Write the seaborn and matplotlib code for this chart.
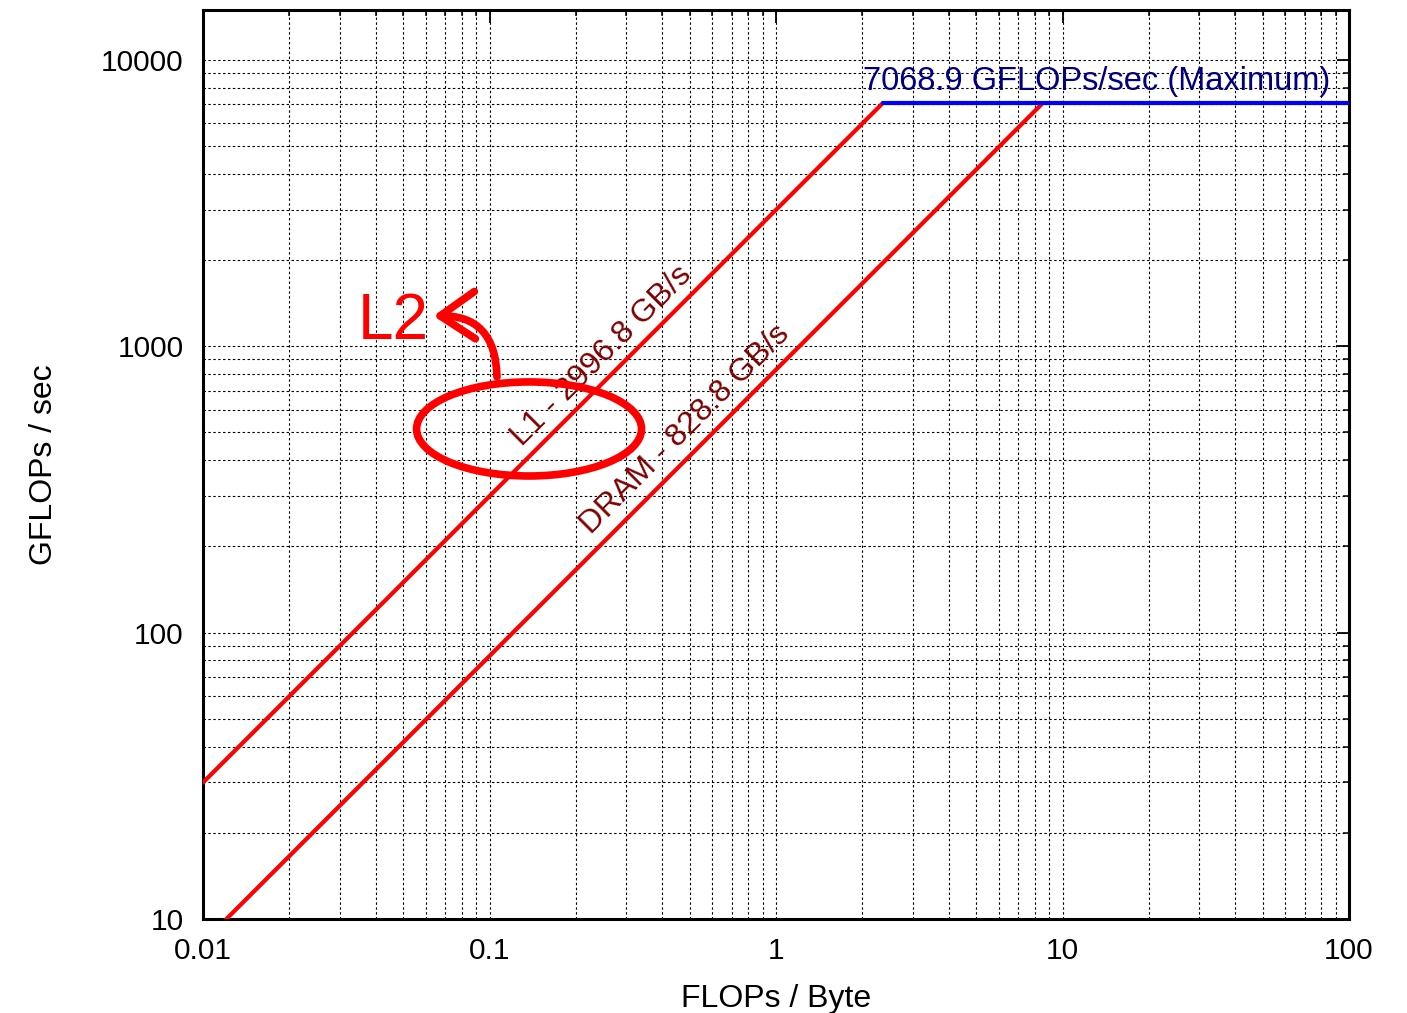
import numpy as np
import pandas as pd
import matplotlib
matplotlib.use("Agg")
import matplotlib.pyplot as plt
import seaborn as sns
from matplotlib.patches import Ellipse, FancyArrowPatch
from matplotlib.ticker import FixedLocator, LogLocator, NullFormatter

# Roofline data: memory bandwidth ceilings and compute peak
memory_levels = ["L1", "DRAM"]
bandwidths_gbs = [2996.8, 828.8]
peak_gflops = 7068.9

x_limits = [0.01, 100]
y_limits = [10, 15000]
x_tick_values = [0.01, 0.1, 1, 10, 100]
x_tick_labels = ["0.01", "0.1", "1", "10", "100"]
y_tick_values = [10, 100, 1000, 10000]
y_tick_labels = ["10", "100", "1000", "10000"]

sns.set_theme(style="white")
plt.rcParams["font.family"] = ["Liberation Sans", "DejaVu Sans"]

# Build the roof segments from the bandwidths and the peak
rows = []
for name, bw in zip(memory_levels, bandwidths_gbs):
    ridge = peak_gflops / bw
    rows.append({"roof": name, "ai": x_limits[0], "gflops": bw * x_limits[0]})
    rows.append({"roof": name, "ai": ridge, "gflops": peak_gflops})
ridge_first = peak_gflops / max(bandwidths_gbs)
rows.append({"roof": "peak", "ai": ridge_first, "gflops": peak_gflops})
rows.append({"roof": "peak", "ai": x_limits[1], "gflops": peak_gflops})
roofs = pd.DataFrame(rows)

fig = plt.figure(figsize=(14.07, 10.13), dpi=100)
ax = fig.add_axes([0.1443, 0.0928, 0.8145, 0.8978])

palette = {"L1": "#ff0000", "DRAM": "#ff0000", "peak": "#0000ff"}
sns.lineplot(data=roofs, x="ai", y="gflops", hue="roof", units="roof",
             estimator=None, sort=False, palette=palette, linewidth=3.0,
             legend=False, ax=ax, zorder=3)

ax.set_xscale("log")
ax.set_yscale("log")
ax.set_xlim(*x_limits)
ax.set_ylim(*y_limits)

ax.xaxis.set_major_locator(FixedLocator(x_tick_values))
ax.set_xticklabels(x_tick_labels)
ax.yaxis.set_major_locator(FixedLocator(y_tick_values))
ax.set_yticklabels(y_tick_labels)
ax.xaxis.set_minor_locator(LogLocator(base=10, subs=np.arange(2, 10)))
ax.yaxis.set_minor_locator(LogLocator(base=10, subs=np.arange(2, 10)))
ax.xaxis.set_minor_formatter(NullFormatter())
ax.yaxis.set_minor_formatter(NullFormatter())

ax.grid(which="both", color="black", linestyle=(0, (2.2, 2.2)), linewidth=0.8)
ax.set_axisbelow(True)

ax.tick_params(which="both", direction="in", top=True, right=True,
               colors="black", labelsize=21.5)
ax.tick_params(which="major", length=9, width=1.3)
ax.tick_params(which="minor", length=4.5, width=1.1)
ax.tick_params(axis="x", pad=13)
ax.tick_params(axis="y", pad=14)

for spine in ax.spines.values():
    spine.set_color("black")
    spine.set_linewidth(2.2)

ax.set_xlabel("FLOPs / Byte", fontsize=23, color="black", labelpad=14)
ax.set_ylabel("GFLOPs / sec", fontsize=23, color="black", labelpad=30)

# Labels along the bandwidth roofs
label_starts = {"L1": 0.13, "DRAM": 0.226}
label_lift = {"L1": 1.14, "DRAM": 1.17}
for name, bw in zip(memory_levels, bandwidths_gbs):
    x0 = label_starts[name]
    ax.text(x0, bw * x0 * label_lift[name], f"{name} - {bw} GB/s",
            rotation=45, rotation_mode="anchor", ha="left", va="baseline",
            color="#7f0000", fontsize=23, zorder=4)

ax.text(85.9, peak_gflops * 1.11, f"{peak_gflops} GFLOPs/sec (Maximum)",
        ha="right", va="baseline", color="#000080", fontsize=23.5, zorder=4)

# Hand-drawn style callout marking the L2 region
ax.add_patch(Ellipse((0.2845, 0.5388), 0.1963, 0.1034, transform=ax.transAxes,
                     fill=False, edgecolor="#ff0000", linewidth=5.5, zorder=5))
ax.add_patch(FancyArrowPatch(posA=(0.2565, 0.596), posB=(0.2010, 0.663),
                             transform=ax.transAxes,
                             connectionstyle="arc3,rad=0.5",
                             arrowstyle="->,head_length=1.25,head_width=0.85",
                             mutation_scale=20, color="#ff0000", linewidth=5.5,
                             shrinkA=0, shrinkB=0, zorder=5))
ax.text(0.1658, 0.6377, "L2", transform=ax.transAxes, ha="center",
        va="baseline", color="#ff0000", fontsize=46, zorder=5)

fig.savefig("out.png", dpi=100)
